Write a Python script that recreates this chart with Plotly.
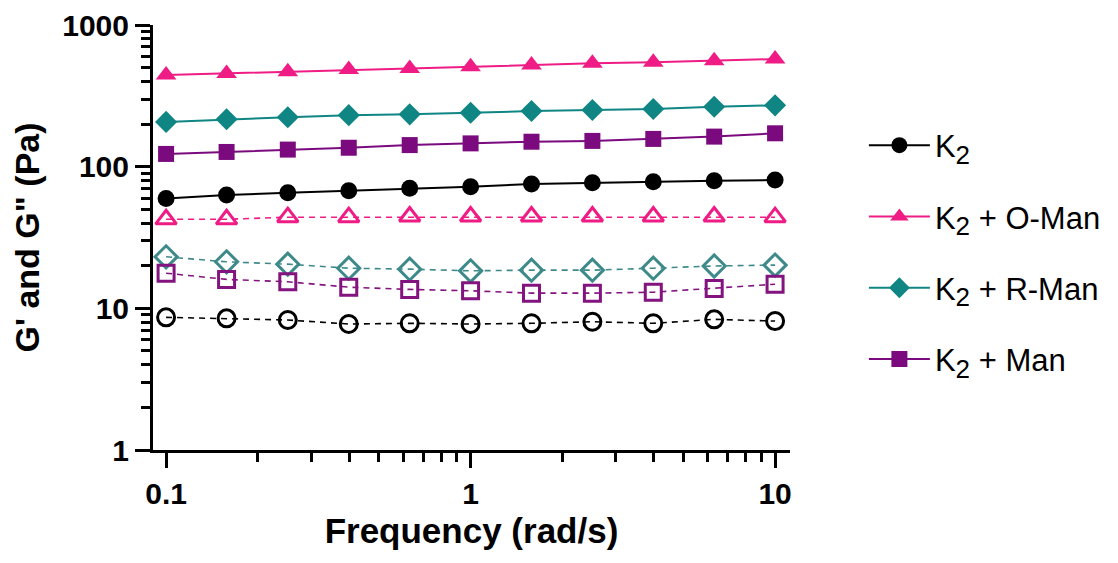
import plotly.graph_objects as go

freq = [0.1, 0.158, 0.251, 0.398, 0.631, 1.0, 1.585, 2.512, 3.981, 6.31, 10.0]

k2_gp = [59.7, 63.0, 65.5, 67.6, 70.3, 72.1, 75.4, 77.0, 78.2, 79.5, 80.4]
oman_gp = [443, 455, 468, 486, 494, 507, 521, 536, 545, 560, 575]
rman_gp = [207, 216, 223, 231, 234, 240, 247, 251, 255, 265, 271]
man_gp = [123, 127, 132, 136, 142, 146, 150, 152, 157, 163, 172]

k2_gpp = [8.64, 8.5, 8.27, 7.75, 7.84, 7.75, 7.84, 8.04, 7.84, 8.36, 8.13]
oman_gpp = [42.5, 42.5, 44.0, 44.0, 44.5, 44.5, 44.5, 44.5, 44.5, 44.5, 44.0]
rman_gpp = [23.1, 21.3, 20.5, 19.2, 18.9, 18.4, 18.6, 18.6, 19.2, 19.9, 20.2]
man_gpp = [17.7, 16.0, 15.4, 14.1, 13.6, 13.3, 12.8, 12.8, 13.0, 13.8, 14.8]

sub2 = "K<sub><span style='font-size:26px'>2</span></sub>"
names = [sub2, sub2 + " + O-Man", sub2 + " + R-Man", sub2 + " + Man"]
colors_gp = ["#000000", "#EE1C84", "#0F8584", "#7A0A7E"]
colors_gpp = ["#000000", "#EE1C84", "#3E8A8A", "#82137F"]
symbols = ["circle", "triangle-up", "diamond", "square"]
sizes = [17, 18, 17, 16]

x_tickvals = [0.1, 1, 10]
x_ticktext = ["0.1", "1", "10"]
y_tickvals = [1, 10, 100, 1000]
y_ticktext = ["1", "10", "100", "1000"]

fig = go.Figure()

gp_series = [k2_gp, oman_gp, rman_gp, man_gp]
gpp_series = [k2_gpp, oman_gpp, rman_gpp, man_gpp]

# G'' (open markers, dashed)
for i, ys in enumerate(gpp_series):
    fig.add_trace(go.Scatter(
        x=freq, y=ys, mode="lines+markers", showlegend=False,
        line=dict(color=colors_gpp[i], width=1.6, dash="6px,5px"),
        marker=dict(symbol=symbols[i] + "-open", size=sizes[i],
                    color=colors_gpp[i], line=dict(width=3, color=colors_gpp[i])),
    ))

# G' (filled markers, solid)
for i, ys in enumerate(gp_series):
    fig.add_trace(go.Scatter(
        x=freq, y=ys, mode="lines+markers", name=names[i], legendgroup="g%d" % i,
        line=dict(color=colors_gp[i], width=2),
        marker=dict(symbol=symbols[i], size=sizes[i], color=colors_gp[i],
                    line=dict(width=0)),
    ))

FONT = "Liberation Sans, Arial"

common = dict(
    showline=True, linecolor="black", linewidth=3,
    ticks="outside", ticklen=15, tickwidth=3, tickcolor="black",
    minor=dict(ticks="outside", ticklen=9, tickwidth=3, tickcolor="black",
               dtick="D1", showgrid=False),
    showgrid=False, zeroline=False, automargin=False,
    tickfont=dict(family=FONT, size=30, color="black", weight="bold"),
)

fig.update_xaxes(
    type="log", range=[-1.043, 1.049],
    tickvals=x_tickvals, ticktext=x_ticktext,
    title=dict(text="<b>Frequency (rad/s)</b>", font=dict(family=FONT, size=35, color="black"), standoff=10),
    **common,
)
fig.update_yaxes(
    type="log", range=[0, 3],
    tickvals=y_tickvals, ticktext=y_ticktext,
    title=dict(text="<b>G' and G\" (Pa)</b>", font=dict(family=FONT, size=34, color="black"), standoff=16),
    **common,
)

fig.update_layout(
    width=1110, height=555,
    margin=dict(l=145, r=328, t=17, b=113),
    plot_bgcolor="white", paper_bgcolor="white",
    legend=dict(x=1.116, y=0.78, xanchor="left", yanchor="top",
                font=dict(family=FONT, size=31, color="black"),
                traceorder="grouped", tracegroupgap=28, itemwidth=61,
                bgcolor="rgba(0,0,0,0)"),
)

fig.write_html("out.html")
